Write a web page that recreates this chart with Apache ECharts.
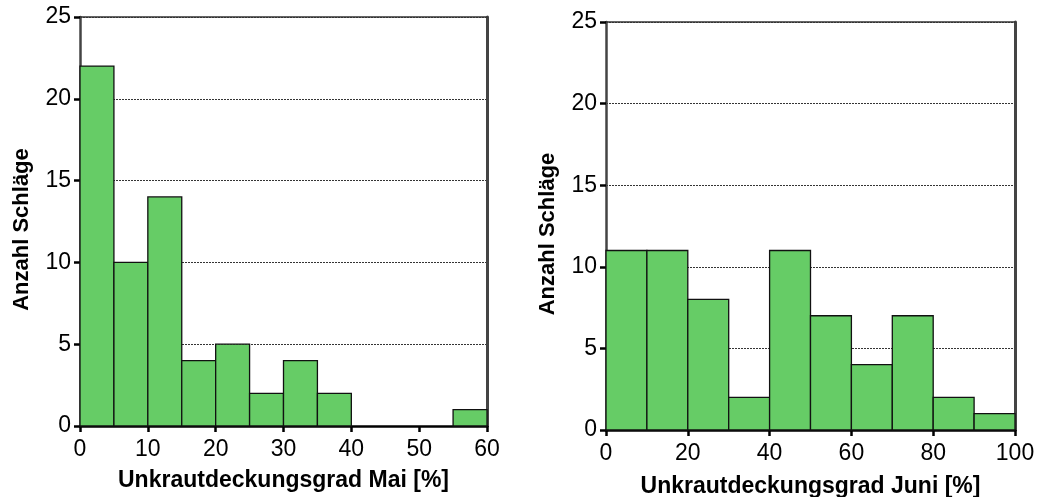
<!DOCTYPE html>
<html>
<head>
<meta charset="utf-8">
<script src="https://cdn.jsdelivr.net/npm/echarts@6/dist/echarts.min.js"></script>
<style>html,body{margin:0;padding:0;background:#fff}#c{width:1040px;height:497px}</style>
</head>
<body>
<div id="c"></div>
<script>
// Data
const maiBinEdges = [0, 5, 10, 15, 20, 25, 30, 35, 40, 45, 50, 55, 60];
const maiCounts = [22, 10, 14, 4, 5, 2, 4, 2, 0, 0, 0, 1];
const juniBinEdges = [0, 10, 20, 30, 40, 50, 60, 70, 80, 90, 100];
const juniCounts = [11, 11, 8, 2, 11, 7, 4, 7, 2, 1];
const yTicks = [0, 5, 10, 15, 20, 25];
const maiTitle = 'Unkrautdeckungsgrad Mai [%]';
const juniTitle = 'Unkrautdeckungsgrad Juni [%]';
const yTitle = 'Anzahl Schläge';

const FONT = "'Liberation Sans', Arial, sans-serif";

function histData(edges, counts) {
  const out = [];
  counts.forEach((c, i) => { if (c > 0) out.push([edges[i], edges[i + 1], c]); });
  return out;
}

function renderBin(params, api) {
  const a = api.coord([api.value(0), api.value(2)]);
  const b = api.coord([api.value(1), 0]);
  return {
    type: 'rect',
    shape: { x: a[0], y: a[1], width: b[0] - a[0], height: b[1] - a[1] },
    style: { fill: '#66CC66', stroke: '#111', lineWidth: 1.3 }
  };
}

function xBottom(gi, max, interval, name, gap) {
  return {
    type: 'value', gridIndex: gi, min: 0, max: max, interval: interval, position: 'bottom',
    name: name, nameLocation: 'middle', nameGap: gap,
    nameTextStyle: { fontFamily: FONT, fontSize: 23, fontWeight: 'bold', color: '#000' },
    axisLine: { show: true, onZero: false, lineStyle: { color: '#000', width: 2.5 } },
    axisTick: { show: true, inside: false, length: 6, lineStyle: { color: '#000', width: 2.5 } },
    axisLabel: { fontFamily: FONT, fontSize: 23, color: '#000', margin: 12 },
    splitLine: { show: false }
  };
}
function xTop(gi, max) {
  return {
    type: 'value', gridIndex: gi, min: 0, max: max, position: 'top',
    axisLine: { show: true, onZero: false, lineStyle: { color: '#333', width: 1.6 } },
    axisTick: { show: false }, axisLabel: { show: false }, splitLine: { show: false }
  };
}
function yLeft(gi, gap) {
  return {
    type: 'value', gridIndex: gi, min: 0, max: 25, interval: 5, position: 'left',
    name: yTitle, nameLocation: 'middle', nameGap: gap, nameRotate: 90,
    nameTextStyle: { fontFamily: FONT, fontSize: 22, fontWeight: 'bold', color: '#000',
      padding: [0, 16, 0, 0] },
    axisLine: { show: true, onZero: false, lineStyle: { color: '#444', width: 2.5 } },
    axisTick: { show: true, inside: false, length: 6, lineStyle: { color: '#000', width: 2.5 } },
    axisLabel: { fontFamily: FONT, fontSize: 23, color: '#000', margin: 9,
      formatter: v => yTicks.includes(v) ? String(v) : '' },
    splitLine: { show: true, lineStyle: { color: '#000', type: [2, 1], width: 0.8 } }
  };
}
function yRight(gi) {
  return {
    type: 'value', gridIndex: gi, min: 0, max: 25, position: 'right',
    axisLine: { show: true, onZero: false, lineStyle: { color: '#444', width: 3 } },
    axisTick: { show: false }, axisLabel: { show: false }, splitLine: { show: false }
  };
}

const chart = echarts.init(document.getElementById('c'), null, { renderer: 'canvas' });
chart.setOption({
  animation: false,
  backgroundColor: '#fff',
  grid: [
    { left: 80, right: 553, top: 17, bottom: 71, containLabel: false, outerBoundsMode: 'none' },
    { left: 606, right: 25, top: 22, bottom: 67, containLabel: false, outerBoundsMode: 'none' }
  ],
  xAxis: [xBottom(0, 60, 10, maiTitle, 43), xTop(0, 60), xBottom(1, 100, 20, juniTitle, 45), xTop(1, 100)],
  yAxis: [yLeft(0, 47), yRight(0), yLeft(1, 47), yRight(1)],
  series: [
    { type: 'custom', xAxisIndex: 0, yAxisIndex: 0, renderItem: renderBin,
      encode: { x: [0, 1], y: 2 }, data: histData(maiBinEdges, maiCounts) },
    { type: 'custom', xAxisIndex: 2, yAxisIndex: 2, renderItem: renderBin,
      encode: { x: [0, 1], y: 2 }, data: histData(juniBinEdges, juniCounts) }
  ]
});
</script>
</body>
</html>
